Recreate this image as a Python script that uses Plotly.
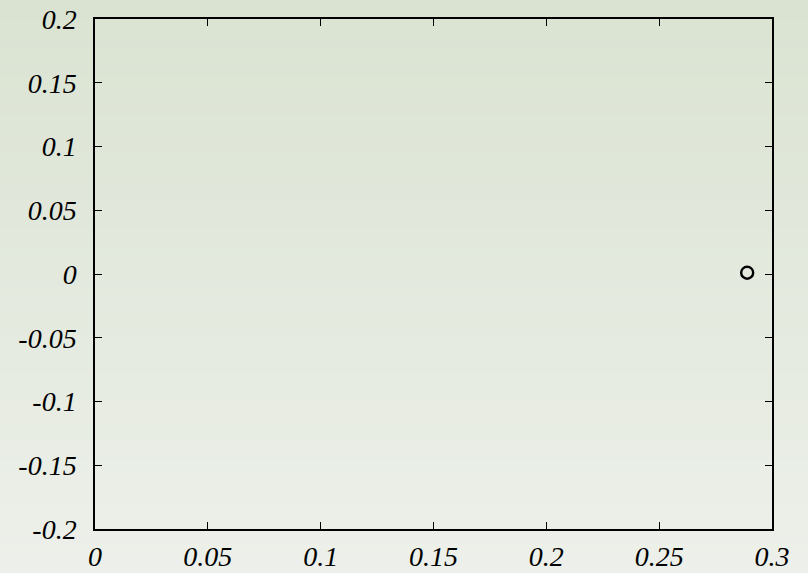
import plotly.graph_objects as go

# Data
point_x = [0.289]
point_y = [0.001]

x_tick_vals = [0, 0.05, 0.1, 0.15, 0.2, 0.25, 0.3]
x_tick_text = ["0", "0.05", "0.1", "0.15", "0.2", "0.25", "0.3"]
y_tick_vals = [-0.2, -0.15, -0.1, -0.05, 0, 0.05, 0.1, 0.15, 0.2]
y_tick_text = ["-0.2", "-0.15", "-0.1", "-0.05", "0", "0.05", "0.1", "0.15", "0.2"]

W, H = 808, 573
ML, MR, MT, MB = 95, 36, 19, 44
PW, PH = W - ML - MR, H - MT - MB

fig = go.Figure()
fig.add_trace(go.Scatter(
    x=point_x, y=point_y, mode="markers",
    marker=dict(symbol="circle-open", size=12, color="black",
                line=dict(width=2.4, color="black")),
    showlegend=False, cliponaxis=False,
))

# vertical gradient background made of thin bands
top = (218, 227, 210)
bot = (237, 240, 234)
N = 60
shapes = []
for i in range(N):
    t = i / (N - 1)
    c = tuple(round(top[k] + (bot[k] - top[k]) * t) for k in range(3))
    py0 = H * i / N
    py1 = H * (i + 1) / N + 1
    shapes.append(dict(
        type="rect", xref="paper", yref="paper", layer="below",
        x0=-ML / PW, x1=(W - ML) / PW,
        y0=(H - MB - py1) / PH, y1=(H - MB - py0) / PH,
        fillcolor="rgb(%d,%d,%d)" % c, line=dict(width=0),
    ))

font = dict(family="'Liberation Serif', 'Times New Roman', Times, serif",
            size=28, color="black", style="italic")
axis_common = dict(
    showgrid=False, zeroline=False, showline=True, linecolor="black",
    linewidth=1.5, mirror="ticks", ticks="inside", ticklen=7,
    tickwidth=1, tickcolor="black", tickfont=font, automargin=False,
)
fig.update_layout(
    width=W, height=H,
    margin=dict(l=ML, r=MR, t=MT, b=MB, pad=0, autoexpand=False),
    paper_bgcolor="rgba(0,0,0,0)", plot_bgcolor="rgba(0,0,0,0)",
    shapes=shapes,
    xaxis=dict(range=[0, 0.3], tickvals=x_tick_vals, ticktext=x_tick_text,
               ticklabelstandoff=2, **axis_common),
    yaxis=dict(range=[-0.2, 0.2], tickvals=y_tick_vals, ticktext=y_tick_text,
               ticklabelstandoff=11, **axis_common),
)
fig.write_html("out.html")
